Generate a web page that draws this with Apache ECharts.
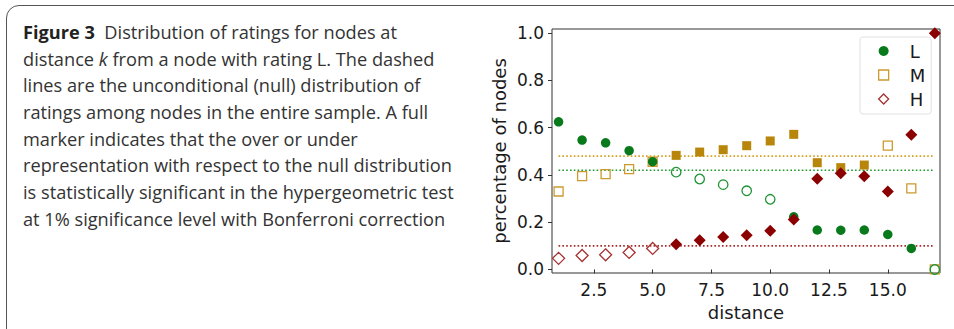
<!DOCTYPE html>
<html>
<head>
<meta charset="utf-8">
<script src="https://cdn.jsdelivr.net/npm/echarts@6/dist/echarts.min.js"></script>
<style>
  html, body { margin: 0; padding: 0; background: #fff; }
  #wrap { position: relative; width: 954px; height: 329px; overflow: hidden; background: #fff; }
  #frame { position: absolute; left: 6px; top: 5px; width: 1100px; height: 500px; border: 1px solid #555; border-radius: 13px; box-sizing: border-box; }
  #caption { position: absolute; left: 23px; top: 18.8px; font-family: "Open Sans", sans-serif; font-size: 18.2px; line-height: 26.7px; color: #333; white-space: nowrap; }
  #caption b { color: #222; }
  #chart { position: absolute; left: 0; top: 0; width: 954px; height: 329px; }
</style>
</head>
<body>
<div id="wrap">
  <div id="frame"></div>
  <div id="caption"><b>Figure 3</b>&nbsp; Distribution of ratings for nodes at<br>distance <i>k</i> from a node with rating L. The dashed<br>lines are the unconditional (null) distribution of<br>ratings among nodes in the entire sample. A full<br>marker indicates that the over or under<br>representation with respect to the null distribution<br>is statistically significant in the hypergeometric test<br>at 1% significance level with Bonferroni correction</div>
  <div id="chart"></div>
</div>
<script>
// ---- data ----
const distances = [1, 2, 3, 4, 5, 6, 7, 8, 9, 10, 11, 12, 13, 14, 15, 16, 17];
const valuesL = [0.625, 0.548, 0.536, 0.503, 0.456, 0.412, 0.383, 0.359, 0.333, 0.297, 0.223, 0.167, 0.166, 0.167, 0.148, 0.089, 0.0];
const valuesM = [0.330, 0.395, 0.404, 0.425, 0.456, 0.483, 0.497, 0.507, 0.524, 0.544, 0.572, 0.452, 0.431, 0.442, 0.524, 0.343, 0.0];
const valuesH = [0.047, 0.059, 0.062, 0.072, 0.089, 0.107, 0.124, 0.137, 0.145, 0.164, 0.212, 0.384, 0.407, 0.395, 0.330, 0.570, 1.0];
const significantL = [1, 1, 1, 1, 1, 0, 0, 0, 0, 0, 1, 1, 1, 1, 1, 1, 0];
const significantM = [0, 0, 0, 0, 0, 1, 1, 1, 1, 1, 1, 1, 1, 1, 0, 0, 0];
const significantH = [0, 0, 0, 0, 0, 1, 1, 1, 1, 1, 1, 1, 1, 1, 1, 1, 1];
const nullL = 0.42;
const nullM = 0.48;
const nullH = 0.10;
const ratingNames = ['L', 'M', 'H'];
const xTicks = [2.5, 5.0, 7.5, 10.0, 12.5, 15.0];
const yTicks = [0.0, 0.2, 0.4, 0.6, 0.8, 1.0];

// ---- styles ----
const styles = {
  L: { symbol: 'circle', size: 9.5, fill: '#087a1c', edge: '#1f9434', z: 3 },
  M: { symbol: 'rect', size: 9, fill: '#b8860b', edge: '#cc9a2e', z: 2 },
  H: { symbol: 'diamond', size: 12, fill: '#8b0000', edge: '#a83232', z: 4 }
};

function pointData(vals, sig, st) {
  return distances.map((d, i) => ({
    value: [d, vals[i]],
    itemStyle: sig[i]
      ? { color: st.fill, borderColor: st.fill, borderWidth: 0, opacity: 1 }
      : { color: 'rgba(255,255,255,0)', borderColor: st.edge, borderWidth: 1.3, opacity: 1 }
  }));
}

function nullLine(name, y, color) {
  return {
    name: name, type: 'line', data: [[distances[0], y], [distances[distances.length - 1], y]],
    symbol: 'none', silent: true, z: 1,
    lineStyle: { color: color, width: 1.6, type: [1.6, 2.2] }
  };
}

const chart = echarts.init(document.getElementById('chart'), null, { renderer: 'svg' });
const axisTextColor = '#1a1a1a';
chart.setOption({
  animation: false,
  backgroundColor: 'transparent',
  grid: { left: 552, right: 14, top: 29, bottom: 56, show: true, borderColor: '#333', borderWidth: 1, backgroundColor: '#fff' },
  legend: {
    left: 860, top: 37, orient: 'vertical',
    backgroundColor: '#fff', borderColor: '#e2e2e2', borderWidth: 1, borderRadius: 3,
    padding: [5, 6, 6, 18], itemGap: 6, itemWidth: 10, itemHeight: 10,
    textStyle: { fontFamily: 'DejaVu Sans', fontSize: 18, color: '#1a1a1a', padding: [0, 0, 0, 16] },
    data: [
      { name: 'L', icon: 'circle', itemStyle: { color: styles.L.fill, borderWidth: 0, opacity: 1 } },
      { name: 'M', icon: 'rect', itemStyle: { color: '#fff', borderColor: styles.M.edge, borderWidth: 1.3, opacity: 1 } },
      { name: 'H', icon: 'diamond', itemStyle: { color: '#fff', borderColor: styles.H.edge, borderWidth: 1.3, opacity: 1 } }
    ]
  },
  xAxis: {
    type: 'value', min: 0.72, max: 17.22,
    name: 'distance', nameLocation: 'middle', nameGap: 30,
    nameTextStyle: { fontFamily: 'DejaVu Sans', fontSize: 18, color: axisTextColor },
    axisLine: { show: false },
    splitLine: { show: false },
    axisTick: { show: true, length: 4, customValues: xTicks, lineStyle: { color: '#333' } },
    axisLabel: { customValues: xTicks, margin: 8, fontFamily: 'DejaVu Sans', fontSize: 17, color: axisTextColor, formatter: v => v.toFixed(1) }
  },
  yAxis: {
    type: 'value', min: -0.015, max: 1.018,
    name: 'percentage of nodes', nameLocation: 'middle', nameGap: 44,
    nameTextStyle: { fontFamily: 'DejaVu Sans', fontSize: 18, color: axisTextColor },
    axisLine: { show: false },
    splitLine: { show: false },
    axisTick: { show: true, length: 4, customValues: yTicks, lineStyle: { color: '#333' } },
    axisLabel: { customValues: yTicks, margin: 8, fontFamily: 'DejaVu Sans', fontSize: 17, color: axisTextColor, formatter: v => v.toFixed(1) }
  },
  series: [
    nullLine('nullM', nullM, '#d4a020'),
    nullLine('nullL', nullL, '#1f9a2f'),
    nullLine('nullH', nullH, '#a52a2a'),
    { name: 'M', type: 'scatter', symbol: styles.M.symbol, symbolSize: styles.M.size, z: styles.M.z, data: pointData(valuesM, significantM, styles.M), itemStyle: { color: styles.M.fill, opacity: 1 } },
    { name: 'L', type: 'scatter', symbol: styles.L.symbol, symbolSize: styles.L.size, z: styles.L.z, data: pointData(valuesL, significantL, styles.L), itemStyle: { color: styles.L.fill, opacity: 1 } },
    { name: 'H', type: 'scatter', symbol: styles.H.symbol, symbolSize: styles.H.size, z: styles.H.z, data: pointData(valuesH, significantH, styles.H), itemStyle: { color: styles.H.fill, opacity: 1 } }
  ]
});
</script>
</body>
</html>
